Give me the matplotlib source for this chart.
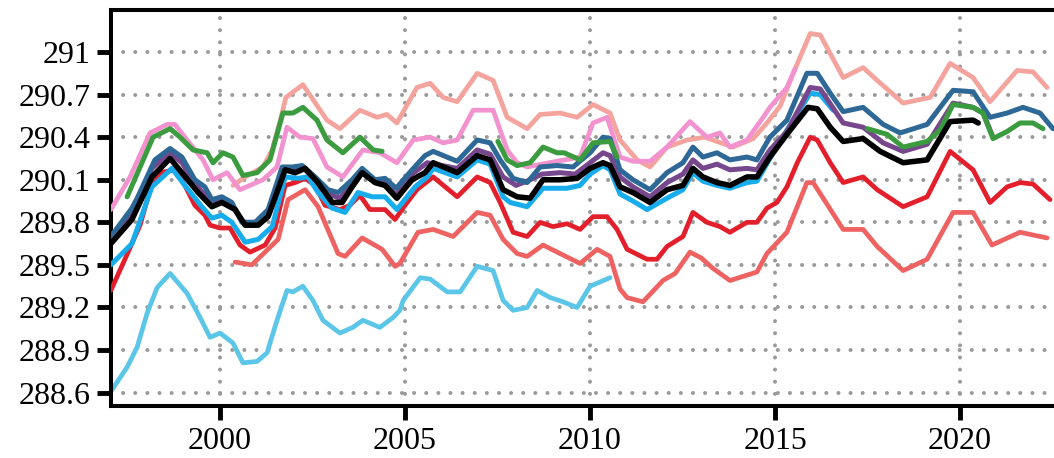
import numpy as np
import matplotlib
matplotlib.use("Agg")
import matplotlib.pyplot as plt

# ---- data: (decimal year, temperature K) per series ----
sky_t = [1997.08, 1997.49, 1997.76, 1998.03, 1998.30, 1998.65, 1999.11, 1999.46, 1999.73, 2000.00,
         2000.35, 2000.62, 2001.00, 2001.27, 2001.54, 2001.81, 2001.97, 2002.24, 2002.51, 2002.78,
         2003.24, 2003.59, 2003.86, 2004.32, 2004.68, 2004.86, 2004.95, 2005.41, 2005.68, 2006.14,
         2006.49, 2006.95, 2007.38, 2007.65, 2007.92, 2008.30, 2008.57, 2008.92, 2009.27, 2009.65,
         2010.00, 2010.27, 2010.54]
sky_v = [288.62, 288.78, 288.92, 289.16, 289.34, 289.44, 289.30, 289.13, 288.99, 289.02,
         288.95, 288.81, 288.82, 288.88, 289.11, 289.32, 289.31, 289.35, 289.25, 289.11,
         289.02, 289.06, 289.11, 289.06, 289.13, 289.18, 289.25, 289.41, 289.40, 289.31,
         289.31, 289.49, 289.46, 289.25, 289.18, 289.20, 289.32, 289.27, 289.24, 289.20,
         289.35, 289.38, 289.41]

lred_t = [2000.41, 2000.86, 2001.57, 2001.84, 2002.30, 2002.65, 2003.19, 2003.38, 2003.84, 2004.38,
          2004.73, 2004.86, 2005.35, 2005.76, 2006.30, 2006.95, 2007.30, 2007.65, 2008.03, 2008.30,
          2008.73, 2009.19, 2009.73, 2010.19, 2010.54, 2010.81, 2011.00, 2011.43, 2011.97, 2012.30,
          2012.70, 2013.00, 2013.30, 2013.78, 2014.51, 2014.78, 2015.32, 2015.86, 2016.03, 2016.84,
          2017.38, 2017.76, 2018.46, 2019.11, 2019.81, 2020.35, 2020.86, 2021.62, 2022.35]
lred_v = [289.52, 289.50, 289.68, 289.96, 290.03, 289.91, 289.58, 289.56, 289.69, 289.61,
          289.49, 289.51, 289.73, 289.75, 289.70, 289.87, 289.85, 289.68, 289.58, 289.56,
          289.64, 289.58, 289.51, 289.61, 289.56, 289.33, 289.27, 289.24, 289.39, 289.44,
          289.59, 289.55, 289.48, 289.39, 289.45, 289.58, 289.73, 290.08, 290.08, 289.75,
          289.75, 289.63, 289.46, 289.54, 289.87, 289.87, 289.64, 289.73, 289.69]

red_t = [1997.05, 1997.43, 1997.84, 1998.11, 1998.38, 1998.78, 1999.05, 1999.32, 1999.59, 1999.73,
         2000.00, 2000.27, 2000.54, 2000.81, 2001.22, 2001.49, 2001.76, 2002.03, 2002.30, 2002.57,
         2002.84, 2003.24, 2003.51, 2003.78, 2004.05, 2004.46, 2004.73, 2005.00, 2005.32, 2005.76,
         2006.41, 2006.95, 2007.30, 2007.57, 2007.92, 2008.30, 2008.65, 2009.00, 2009.38, 2009.73,
         2010.08, 2010.46, 2010.73, 2011.00, 2011.54, 2011.81, 2012.08, 2012.51, 2012.78, 2013.16,
         2013.51, 2013.78, 2014.24, 2014.51, 2014.78, 2015.05, 2015.32, 2015.60, 2015.95, 2016.14,
         2016.49, 2016.84, 2017.38, 2017.76, 2018.46, 2019.11, 2019.73, 2020.35, 2020.81, 2021.27,
         2021.62, 2021.97, 2022.43]
red_v = [289.32, 289.54, 289.78, 290.03, 290.15, 290.17, 290.06, 289.92, 289.85, 289.78,
         289.76, 289.76, 289.64, 289.59, 289.64, 289.76, 290.06, 290.08, 290.11, 290.06,
         289.92, 289.89, 289.92, 289.99, 289.89, 289.89, 289.82, 289.92, 290.03, 290.12,
         289.98, 290.12, 290.08, 289.94, 289.73, 289.70, 289.80, 289.77, 289.79, 289.75,
         289.84, 289.84, 289.75, 289.61, 289.54, 289.54, 289.63, 289.70, 289.87, 289.80,
         289.77, 289.73, 289.80, 289.80, 289.90, 289.94, 290.05, 290.22, 290.40, 290.38,
         290.22, 290.08, 290.12, 290.03, 289.91, 289.98, 290.30, 290.17, 289.94, 290.05,
         290.08, 290.07, 289.96]

salmon_t = [2000.35, 2000.68, 2001.16, 2001.41, 2001.65, 2001.78, 2002.24, 2002.89, 2003.24, 2003.78,
            2004.24, 2004.51, 2004.78, 2005.32, 2005.68, 2006.03, 2006.41, 2006.95, 2007.38, 2007.76,
            2008.30, 2008.65, 2009.19, 2009.65, 2010.08, 2010.54, 2010.81, 2011.27, 2011.62, 2012.08,
            2012.62, 2013.10, 2013.86, 2014.41, 2014.78, 2015.14, 2015.49, 2015.95, 2016.22, 2016.84,
            2017.38, 2017.76, 2018.46, 2019.19, 2019.73, 2020.35, 2020.81, 2021.54, 2021.97, 2022.35]
salmon_v = [290.06, 290.12, 290.19, 290.31, 290.54, 290.68, 290.77, 290.52, 290.46, 290.59,
            290.54, 290.56, 290.50, 290.75, 290.78, 290.68, 290.65, 290.85, 290.80, 290.54,
            290.46, 290.56, 290.57, 290.54, 290.63, 290.57, 290.38, 290.24, 290.19, 290.33,
            290.38, 290.40, 290.33, 290.39, 290.50, 290.62, 290.85, 291.13, 291.12, 290.82,
            290.89, 290.80, 290.64, 290.68, 290.92, 290.82, 290.65, 290.87, 290.86, 290.75]

pink_t = [1997.05, 1997.57, 1998.11, 1998.57, 1998.78, 1999.11, 1999.54, 1999.81, 2000.19, 2000.54,
          2001.16, 2001.54, 2001.81, 2002.16, 2002.51, 2002.89, 2003.32, 2003.86, 2004.32, 2004.78,
          2005.22, 2005.68, 2006.03, 2006.41, 2006.84, 2007.38, 2007.76, 2008.03, 2008.30, 2008.90,
          2009.73, 2010.08, 2010.46, 2010.81, 2011.16, 2011.62, 2012.08, 2012.70, 2013.16, 2013.51,
          2013.78, 2014.24, 2014.68, 2014.86, 2015.32, 2015.54]
pink_v = [289.89, 290.12, 290.43, 290.49, 290.49, 290.38, 290.24, 290.10, 290.15, 290.03,
          290.10, 290.19, 290.47, 290.40, 290.39, 290.19, 290.12, 290.31, 290.29, 290.22,
          290.38, 290.40, 290.36, 290.38, 290.59, 290.59, 290.31, 290.22, 290.19, 290.22,
          290.26, 290.50, 290.54, 290.26, 290.23, 290.23, 290.33, 290.51, 290.40, 290.43,
          290.33, 290.38, 290.54, 290.61, 290.75, 290.88]

cyan_t = [1997.05, 1997.62, 1998.16, 1998.70, 1999.05, 1999.51, 1999.78, 2000.05, 2000.32, 2000.68,
          2001.03, 2001.41, 2001.76, 2002.11, 2002.38, 2002.65, 2003.03, 2003.38, 2003.73, 2004.11,
          2004.46, 2004.78, 2005.27, 2005.60, 2005.76, 2006.41, 2006.95, 2007.30, 2007.65, 2007.84,
          2008.30, 2008.73, 2009.38, 2009.73, 2010.00, 2010.35, 2010.54, 2010.81, 2011.16, 2011.54,
          2012.08, 2012.51, 2012.78, 2013.05, 2013.43, 2013.78, 2014.24, 2014.51, 2014.86, 2015.32,
          2015.95, 2016.22, 2016.57]
cyan_v = [289.50, 289.65, 290.05, 290.18, 290.06, 289.91, 289.83, 289.85, 289.80, 289.66,
          289.68, 289.77, 290.12, 290.11, 290.12, 290.01, 289.90, 289.87, 290.01, 289.98,
          289.98, 289.89, 290.05, 290.12, 290.18, 290.12, 290.24, 290.21, 289.98, 289.94,
          289.91, 290.04, 290.04, 290.06, 290.14, 290.20, 290.17, 290.00, 289.95, 289.89,
          289.97, 290.03, 290.15, 290.09, 290.06, 290.04, 290.08, 290.09, 290.25, 290.45,
          290.71, 290.70, 290.59]

purple_t = [1997.05, 1997.62, 1998.16, 1998.65, 1998.97, 1999.32, 1999.78, 2000.05, 2000.32, 2000.62,
            2001.00, 2001.30, 2001.70, 2001.97, 2002.22, 2002.57, 2002.92, 2003.24, 2003.57, 2003.84,
            2004.19, 2004.46, 2004.75, 2005.19, 2005.60, 2006.41, 2006.95, 2007.30, 2007.65, 2008.00,
            2008.38, 2008.70, 2009.19, 2009.60, 2010.00, 2010.35, 2010.54, 2010.81, 2011.16, 2011.62,
            2012.08, 2012.51, 2012.78, 2013.05, 2013.43, 2013.78, 2014.24, 2014.51, 2014.86, 2015.32,
            2015.95, 2016.22, 2016.84, 2017.38, 2017.92, 2018.46, 2019.11, 2019.81, 2020.35, 2020.62,
            2020.89]
purple_v = [289.68, 289.88, 290.18, 290.29, 290.22, 290.07, 289.94, 289.96, 289.92, 289.80,
            289.80, 289.87, 290.18, 290.17, 290.19, 290.10, 290.00, 289.97, 290.07, 290.16,
            290.09, 290.09, 289.99, 290.14, 290.22, 290.18, 290.31, 290.28, 290.12, 290.06,
            290.10, 290.14, 290.15, 290.14, 290.22, 290.29, 290.27, 290.12, 290.05, 289.98,
            290.08, 290.14, 290.24, 290.18, 290.21, 290.17, 290.18, 290.17, 290.31, 290.44,
            290.75, 290.74, 290.50, 290.47, 290.36, 290.30, 290.35, 290.64, 290.61, 290.57,
            290.40]

blue_t = [1997.05, 1997.62, 1997.78, 1998.24, 1998.65, 1998.97, 1999.32, 1999.59, 1999.78, 2000.05,
          2000.32, 2000.59, 2000.95, 2001.30, 2001.68, 2001.95, 2002.22, 2002.57, 2002.92, 2003.19,
          2003.57, 2003.84, 2004.19, 2004.46, 2004.76, 2005.19, 2005.54, 2005.76, 2006.41, 2006.95,
          2007.30, 2007.57, 2007.92, 2008.30, 2008.65, 2009.11, 2009.54, 2010.00, 2010.35, 2010.54,
          2010.81, 2011.16, 2011.62, 2012.08, 2012.51, 2012.78, 2013.05, 2013.43, 2013.78, 2014.24,
          2014.51, 2014.86, 2015.32, 2015.86, 2016.14, 2016.49, 2016.84, 2017.38, 2017.92, 2018.38,
          2019.11, 2019.81, 2020.35, 2020.81, 2021.27, 2021.70, 2022.16, 2022.51]
blue_v = [289.70, 289.90, 289.98, 290.24, 290.32, 290.26, 290.10, 290.05, 289.96, 289.98,
          289.94, 289.80, 289.80, 289.89, 290.19, 290.19, 290.20, 290.12, 290.03, 290.01,
          290.10, 290.18, 290.10, 290.11, 290.04, 290.17, 290.27, 290.30, 290.23, 290.38,
          290.36, 290.24, 290.11, 290.08, 290.19, 290.20, 290.19, 290.29, 290.40, 290.39,
          290.17, 290.10, 290.03, 290.15, 290.22, 290.33, 290.26, 290.29, 290.24, 290.26,
          290.24, 290.40, 290.52, 290.85, 290.85, 290.71, 290.58, 290.61, 290.49, 290.43,
          290.49, 290.73, 290.72, 290.54, 290.57, 290.61, 290.57, 290.46]

# green record has gaps -> three separate pieces
green1_t = [1997.49, 1997.84, 1998.19, 1998.65, 1998.92, 1999.27, 1999.65, 1999.81, 2000.08, 2000.35,
            2000.62, 2001.00, 2001.35, 2001.70, 2001.97, 2002.24, 2002.62, 2002.89, 2003.32, 2003.78,
            2004.14, 2004.38]
green1_v = [289.98, 290.19, 290.40, 290.46, 290.40, 290.31, 290.29, 290.22, 290.29, 290.26,
            290.13, 290.15, 290.24, 290.57, 290.57, 290.61, 290.52, 290.38, 290.29, 290.40,
            290.31, 290.30]
green2_t = [2007.51, 2007.76, 2008.03, 2008.38, 2008.73, 2009.11, 2009.30, 2009.73, 2010.08, 2010.54, 2010.73]
green2_v = [290.37, 290.24, 290.20, 290.22, 290.33, 290.29, 290.29, 290.24, 290.36, 290.37, 290.26]
green3_t = [2017.49, 2018.03, 2018.46, 2019.11, 2019.46, 2019.81, 2020.35, 2020.62, 2020.89, 2021.27,
            2021.62, 2021.97, 2022.24]
green3_v = [290.46, 290.42, 290.33, 290.37, 290.45, 290.63, 290.61, 290.57, 290.39, 290.44,
            290.50, 290.50, 290.46]

black_t = [1997.05, 1997.62, 1998.16, 1998.65, 1998.97, 1999.41, 1999.78, 2000.05, 2000.41, 2000.68,
           2001.03, 2001.30, 2001.76, 2002.03, 2002.30, 2002.65, 2003.03, 2003.30, 2003.57, 2003.84,
           2004.19, 2004.46, 2004.78, 2005.19, 2005.54, 2005.76, 2006.41, 2006.95, 2007.30, 2007.65,
           2008.03, 2008.38, 2008.73, 2009.19, 2009.65, 2010.00, 2010.35, 2010.54, 2010.81, 2011.16,
           2011.62, 2012.08, 2012.51, 2012.78, 2013.05, 2013.43, 2013.78, 2014.24, 2014.51, 2014.86,
           2015.32, 2015.89, 2016.14, 2016.49, 2016.84, 2017.38, 2017.84, 2018.46, 2019.11, 2019.73,
           2020.35, 2020.49]
black_v = [289.65, 289.82, 290.12, 290.25, 290.15, 290.01, 289.91, 289.94, 289.89, 289.78,
           289.78, 289.84, 290.17, 290.15, 290.18, 290.08, 289.94, 289.94, 290.05, 290.15,
           290.08, 290.06, 289.97, 290.10, 290.15, 290.22, 290.15, 290.27, 290.24, 290.03,
           289.98, 289.97, 290.10, 290.10, 290.11, 290.18, 290.22, 290.20, 290.05, 290.01,
           289.94, 290.03, 290.06, 290.18, 290.12, 290.08, 290.06, 290.12, 290.12, 290.26,
           290.42, 290.61, 290.60, 290.47, 290.37, 290.39, 290.30, 290.22, 290.24, 290.51,
           290.52, 290.50]

x_ticks = [2000, 2005, 2010, 2015, 2020]
y_ticks = [288.6, 288.9, 289.2, 289.5, 289.8, 290.1, 290.4, 290.7, 291.0]
y_ticklabels = ["288.6", "288.9", "289.2", "289.5", "289.8", "290.1", "290.4", "290.7", "291"]

# ---- figure ----
plt.rcParams["font.family"] = ["Liberation Serif", "DejaVu Serif"]
fig = plt.figure(figsize=(10.54, 4.58), dpi=100)
ax = fig.add_axes([111 / 1054, 52 / 458, 949 / 1054, 396 / 458])

series = [
    (sky_t, sky_v, "#5cc6e8", 3.4, 2),
    (lred_t, lred_v, "#ef6262", 3.4, 3),
    (red_t, red_v, "#e31f2b", 3.4, 4),
    (salmon_t, salmon_v, "#f4a39d", 3.4, 5),
    (pink_t, pink_v, "#f292cf", 3.4, 6),
    (cyan_t, cyan_v, "#17acec", 3.6, 7),
    (purple_t, purple_v, "#76478c", 3.6, 8),
    (blue_t, blue_v, "#2d6896", 3.6, 9),
    (green1_t, green1_v, "#3a9c3e", 3.6, 10),
    (green2_t, green2_v, "#3a9c3e", 3.6, 10),
    (green3_t, green3_v, "#3a9c3e", 3.6, 10),
    (black_t, black_v, "#000000", 4.0, 11),
]
for t, v, c, lw, z in series:
    ax.plot(t, v, color=c, lw=lw, zorder=z, solid_joinstyle="round", solid_capstyle="round")

ax.set_xlim(1997.054, 2022.7)
ax.set_ylim(288.506, 291.296)
ax.set_xticks(x_ticks)
ax.set_xticklabels([str(x) for x in x_ticks])
ax.set_yticks(y_ticks)
ax.set_yticklabels(y_ticklabels)

ax.grid(True, color="#9a9a9a", linestyle=(0, (0.01, 3.0)), lw=2.9,
        dash_capstyle="round", zorder=0)
ax.set_axisbelow(True)

for side in ("left", "top", "bottom", "right"):
    ax.spines[side].set_linewidth(2.9)
    ax.spines[side].set_color("black")

ax.tick_params(axis="both", direction="out", length=10, width=3.5, labelsize=23,
               pad=5, colors="black")

fig.savefig("out.png", dpi=100)
